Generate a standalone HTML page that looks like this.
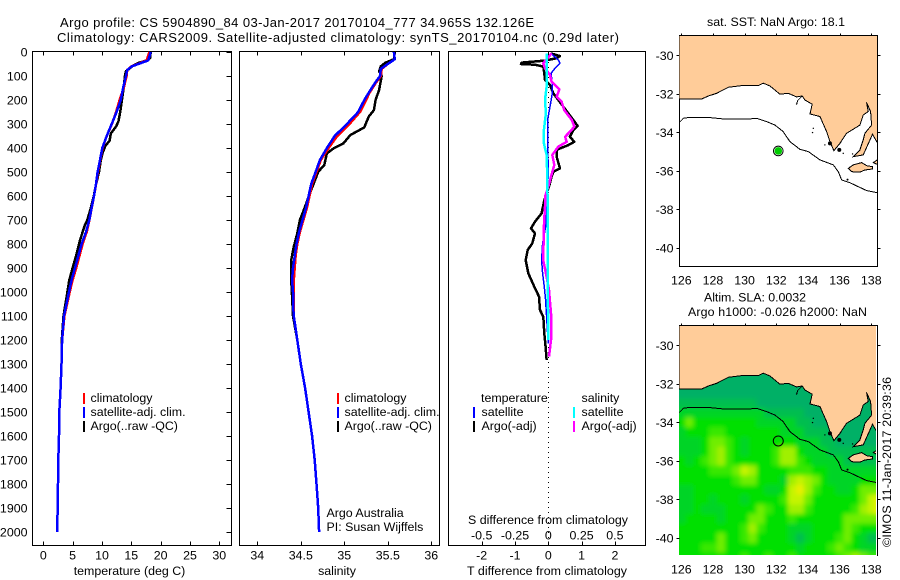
<!DOCTYPE html>
<html>
<head>
<meta charset="utf-8">
<title>Argo profile CS 5904890_84</title>
<style>
html,body{margin:0;padding:0;background:#fff;}
svg{display:block;position:absolute;left:0;top:0;}
text{font-family:"Liberation Sans",sans-serif;font-size:12.4px;fill:#000;}
</style>
</head>
<body>
<svg id="chart" width="900" height="580" viewBox="0 0 900 580" xmlns="http://www.w3.org/2000/svg">
<defs>
<clipPath id="clip-map1"><rect x="679" y="35" width="198" height="232"/></clipPath>
<clipPath id="clip-map2"><rect x="679" y="326" width="197" height="229"/></clipPath>
<filter id="heat-blur" x="-5%" y="-5%" width="110%" height="110%"><feGaussianBlur stdDeviation="2.5"/></filter>
</defs>
<rect x="0" y="0" width="900" height="580" fill="#fff"/>
<text x="60" y="27" textLength="474" style="font-size:13px">Argo profile: CS 5904890_84 03-Jan-2017 20170104_777 34.965S 132.126E</text>
<text x="57" y="42" textLength="562" style="font-size:13px">Climatology: CARS2009. Satellite-adjusted climatology: synTS_20170104.nc (0.29d later)</text>
<g id="layer"></g>
<text x="129.5" y="575" text-anchor="middle">temperature (deg C)</text>
<text x="337" y="575" text-anchor="middle">salinity</text>
<text x="467" y="575" textLength="160">T difference from climatology</text>
<text x="468" y="524" textLength="160">S difference from climatology</text>

<g>
<rect x="83" y="393" width="2" height="11" fill="#f00"/>
<rect x="83" y="407" width="2" height="11" fill="#00f"/>
<rect x="83" y="421" width="2" height="11" fill="#000"/>
<text x="90.5" y="402">climatology</text>
<text x="90.5" y="416">satellite-adj. clim.</text>
<text x="90.5" y="430">Argo(..raw -QC)</text>
</g>
<g>
<rect x="337" y="393" width="2" height="11" fill="#f00"/>
<rect x="337" y="407" width="2" height="11" fill="#00f"/>
<rect x="337" y="421" width="2" height="11" fill="#000"/>
<text x="344.5" y="402">climatology</text>
<text x="344.5" y="416">satellite-adj. clim.</text>
<text x="344.5" y="430">Argo(..raw -QC)</text>
</g>
<text x="326.5" y="517">Argo Australia</text>
<text x="326.5" y="531">PI: Susan Wijffels</text>
<g>
<text x="481" y="402">temperature</text>
<rect x="473" y="407" width="2" height="11" fill="#00f"/>
<rect x="473" y="421" width="2" height="11" fill="#000"/>
<text x="481.5" y="416">satellite</text>
<text x="481.5" y="430">Argo(-adj)</text>
<text x="581.5" y="402">salinity</text>
<rect x="573" y="407" width="2" height="11" fill="#0ff"/>
<rect x="573" y="421" width="2" height="11" fill="#f0f"/>
<text x="581.5" y="416">satellite</text>
<text x="581.5" y="430">Argo(-adj)</text>
</g>
<text x="707" y="26" textLength="138">sat. SST: NaN Argo: 18.1</text>
<text x="704" y="301.5" textLength="102">Altim. SLA: 0.0032</text>
<text x="688" y="316" textLength="179">Argo h1000: -0.026 h2000: NaN</text>
<text transform="translate(891,547) rotate(-90)" textLength="170">©IMOS 11-Jan-2017 20:39:36</text>
</svg>
<script>
/* ---------- axis tick data ---------- */
var depthTicks = [0,100,200,300,400,500,600,700,800,900,1000,1100,1200,1300,1400,1500,1600,1700,1800,1900,2000];
var tempTicks = [0,5,10,15,20,25,30];
var salTicks = [34,34.5,35,35.5,36];
var salTickLabels = ['34','34.5','35','35.5','36'];
var tDiffTicks = [-2,-1,0,1,2];
var sDiffTicks = [-0.5,-0.25,0,0.25,0.5];
var sDiffTickLabels = ['-0.5','-0.25','0','0.25','0.5'];
var lonTicks = [126,128,130,132,134,136,138];
var latTicks = [-30,-32,-34,-36,-38,-40];

/* ---------- temperature profile data ---------- */
var tempClimDepth = [0,35,50,60,75,100,150,200,250,300,350,400,450,500,550,600,650,700,750,800,850,900,950,1000,1100,1200,1300,1400,1500,1600,1700,1800,1900,2000];
var tempClimValue = [18.1,17.6,16.1,15.0,14.3,14.2,13.7,13.0,12.4,11.7,10.8,10.1,9.7,9.3,9.0,8.65,8.25,7.85,7.4,6.7,6.15,5.6,5.0,4.5,3.6,3.2,3.1,2.95,2.73,2.67,2.56,2.5,2.44,2.39];
var tempSatValue = [18.3,17.9,16.2,15.06,14.3,14.1,13.6,13.2,12.5,11.65,10.8,10.05,9.66,9.26,8.98,8.64,8.24,7.84,7.27,6.53,5.97,5.4,4.83,4.38,3.53,3.2,3.1,2.95,2.73,2.67,2.56,2.5,2.44,2.39];
var tempArgoDepth = [0,25,35,45,55,65,80,100,150,200,250,290,310,340,370,390,420,450,500,550,600,650,700,720,780,800,850,900,950,1000,1100,1200,1300];
var tempArgoValue = [18.3,18.2,17.6,16.3,15.4,14.9,14.1,13.9,13.7,13.4,13.1,12.8,12.4,11.5,11.3,10.6,10.1,9.8,9.5,9.0,8.6,8.1,7.5,7.1,6.3,6.08,5.57,5.0,4.43,4.1,3.45,3.15,3.1];

/* ---------- salinity profile data ---------- */
var salSatDepth = [0,30,50,70,100,130,170,200,250,300,350,400,450,500,550,600,650,700,750,800,850,900,950,1000,1050,1100,1200,1300,1400,1500,1600,1700,1800,1900,2000];
var salSatValue = [35.57,35.58,35.5,35.42,35.41,35.35,35.28,35.23,35.16,35.03,34.89,34.8,34.72,34.67,34.62,34.59,34.56,34.52,34.48,34.45,34.43,34.41,34.4,34.41,34.41,34.42,34.46,34.5,34.55,34.59,34.63,34.66,34.68,34.7,34.71];
var salClimValue = [35.57,35.58,35.5,35.43,35.42,35.36,35.29,35.25,35.18,35.06,34.92,34.82,34.73,34.68,34.63,34.6,34.57,34.53,34.49,34.46,34.44,34.43,34.42,34.42,34.42,34.42,34.46,34.5,34.55,34.59,34.63,34.66,34.68,34.7,34.71];
var salArgoDepth = [0,30,45,60,80,100,158,200,242,269,314,346,381,401,422,471,499,547,603,644,700,756,811,867,950,1019,1100,1200,1300];
var salArgoValue = [35.58,35.57,35.47,35.42,35.4,35.43,35.4,35.36,35.34,35.28,35.23,35.07,34.99,34.88,34.8,34.77,34.7,34.65,34.59,34.55,34.49,34.46,34.42,34.39,34.39,34.4,34.41,34.46,34.5];

/* ---------- difference panel data ---------- */
var tDiffArgoDepth = [6,17,26,36,44,50,53,61,89,117,138,172,228,283,308,325,353,374,388,408,436,485,499,519,561,617,672,707,735,756,797,825,867,922,978,1019,1075,1103,1172,1228,1283];
var tDiffArgoValue = [0.08,0.35,0.25,-0.1,-0.8,-0.82,-0.4,-0.15,-0.12,-0.1,0.05,0.15,0.45,0.75,0.88,0.75,0.65,0.78,0.6,0.25,0.25,0.35,0.15,0.1,0.02,-0.12,-0.2,-0.4,-0.52,-0.4,-0.48,-0.62,-0.68,-0.6,-0.42,-0.28,-0.25,-0.15,-0.12,-0.08,-0.05];
var tDiffSatDepth = [6,33,47,68,89,131,172,228,283,367,506,728,797,867,922,978,1033,1103,1172,1214];
var tDiffSatValue = [0.08,0.3,0.35,0.2,0.08,0.12,0.12,0.05,-0.02,-0.02,0,-0.08,-0.17,-0.2,-0.17,-0.12,-0.08,-0.05,-0.02,0];
var sDiffArgoDepth = [6,47,68,96,124,156,186,207,242,283,311,332,353,374,394,429,471,519,561,603,644,693,728,867,936,992,1089,1200,1269];
var sDiffArgoValue = [0.025,-0.038,-0.025,0.013,0.025,0.083,0.063,0.1,0.12,0.176,0.196,0.163,0.126,0.138,0.075,0.03,0.045,0.02,0,-0.025,-0.025,-0.03,-0.033,-0.038,-0.013,0.005,0.02,0.02,0.005];
var sDiffSatDepth = [6,47,89,144,200,256,325,381,429,506,617,894,1200];
var sDiffSatValue = [-0.013,-0.013,-0.013,-0.013,-0.025,-0.018,-0.033,-0.033,-0.013,-0.008,-0.005,-0.005,0];

/* ---------- map data ---------- */
var coastLon = [125.87,126.76,127.28,127.71,128.23,128.97,129.92,130.86,131.18,131.6,132.23,132.76,133.28,133.64,133.81,134.27,134.13,134.76,135.18,135.39,135.64,136.02,136.44,137.28,137.49,137.81,137.7,137.96,138.02,137.6,137.49,137.28,136.86,137.49,137.92,138.08,138.38,138.38,125.87];
var coastLat = [-32.27,-32.28,-32.27,-32.11,-31.97,-31.66,-31.56,-31.57,-31.45,-31.59,-32.02,-31.97,-32.16,-32.11,-32.32,-32.54,-33.04,-33.18,-33.96,-34.48,-34.95,-34.57,-34.05,-33.62,-33.1,-32.92,-32.44,-32.92,-33.62,-34.05,-34.39,-34.91,-35.26,-35.17,-34.39,-34.1,-34.53,-28.98,-28.98];
var kangarooLon = [136.55,136.86,137.39,137.71,138.08,138.08,137.6,137.28,136.76];
var kangarooLat = [-35.87,-35.69,-35.57,-35.73,-35.78,-35.9,-35.95,-36.06,-36.04];
var fleurieuLon = [138.13,138.38,138.38];
var fleurieuLat = [-35.57,-35.43,-35.66];
var isobathLon = [125.87,126.13,126.55,127.6,128.65,130.34,130.76,131.39,131.92,132.44,132.86,133.49,134.02,134.76,135.6,135.92,136.13,136.65,137.18,137.71,138.38];
var isobathLat = [-33.49,-33.27,-33.22,-33.22,-33.3,-33.3,-33.27,-33.44,-33.62,-33.96,-34.48,-34.88,-35,-35.43,-35.69,-36.04,-36.47,-36.61,-36.82,-37.02,-37.13];
var inletLon = [133.28,133.35,133.64];
var inletLat = [-32.56,-32.35,-32.11];
var isletLon = [135.39,135.98,134.34,134.29,133.28,135.07,136.23,136.82,136.5];
var isletLat = [-34.57,-34.91,-33.79,-34.01,-32.53,-34.65,-35.09,-35.12,-36.45];
var isletSize = [2,2,0.7,0.7,0.7,0.7,0.7,0.7,1];
var profileLon = [132.126];
var profileLat = [-34.965];

/* ---------- SLA grid: one string per latitude, one digit per longitude ---------- */
var slaLons = [126,126.5,127,127.5,128,128.5,129,129.5,130,130.5,131,131.5,132,132.5,133,133.5,134,134.5,135,135.5,136,136.5,137,137.5,138,138.5];
var slaLats = [-31.5,-32,-32.5,-33,-33.5,-34,-34.5,-35,-35.5,-36,-36.5,-37,-37.5,-38,-38.5,-39,-39.5,-40,-40.5,-41];
var slaRows = [
"11111111111111111111111111",
"11111111111111111111111111",
"11111111111111111111111111",
"22222222221111111111111111",
"33333333333222221111111111",
"46444444443333322111111111",
"34445544444443332221111111",
"33346654344444433322111111",
"33346754344457743332222222",
"43456754444457754333322222",
"44445556874444555443333333",
"44444445664443787643333444",
"33444444444334897544334666",
"33443444344445886444444689",
"33433344446544775444445789",
"34444344466444544444466666",
"44444444575444333444465444",
"44444644564444323444564322",
"44455644444444434445654333",
"44444444544544544444567655"
];

/* ---------- scales ---------- */
function yDepth(d){return 52+0.24*d;}
function xTemp(v){return 43.3+5.867*v;}
function xSal(v){return 257.3+87*(v-34);}
function xTd(v){return 548.3+33.3*v;}
function xSd(v){return 548.3+133.2*v;}
function xLon(v){return 681.3+15.83*(v-126);}
function yLat1(v){return 55.3+19.27*(-30-v);}
function yLat2(v){return 345.3+19.27*(-30-v);}

/* ---------- helpers ---------- */
var NS='http://www.w3.org/2000/svg';
var layer=document.getElementById('layer');
function make(tag,props,parent){
  var e=document.createElementNS(NS,tag);
  for(var k in props){e.setAttribute(k,props[k]);}
  (parent||layer).appendChild(e);
  return e;
}
function pathFrom(xs,ys,fx,fy,close){
  var s='';
  for(var i=0;i<xs.length;i++){s+=(i?'L':'M')+fx(xs[i]).toFixed(1)+' '+fy(ys[i]).toFixed(1);}
  return s+(close?'Z':'');
}
function drawSeries(name,depths,values,fx,color,width){
  var p=make('path',{d:pathFrom(values,depths,fx,yDepth),fill:'none',stroke:color,'stroke-width':width,'shape-rendering':'crispEdges','stroke-linejoin':'round'});
  
  
}
function drawRule(name,x1,y1,x2,y2){
  var l=make('line',{x1:x1,y1:y1,x2:x2,y2:y2,stroke:'#000','stroke-width':1,'shape-rendering':'crispEdges'});
  
  
}
function drawLabel(name,x,y,txt,anchor){
  var t=make('text',{x:x,y:y,'text-anchor':anchor});
  t.textContent=txt;
  
  
}
function drawFrame(name,l,t,r,b){
  var f=make('rect',{x:l,y:t,width:r-l,height:b-t,fill:'#fff',stroke:'#000','stroke-width':1,'shape-rendering':'crispEdges'});
  
  
}

/* ---------- profile panels ---------- */
var TOP=51.5,BOT=545.5;
drawFrame('temperature-plot-frame',32.5,TOP,231.5,BOT);
drawFrame('salinity-plot-frame',239.5,TOP,439.5,BOT);
drawFrame('difference-plot-frame',448.5,TOP,645.5,BOT);

depthTicks.forEach(function(d){
  drawRule('depth-tick',226.5,Math.round(yDepth(d))+0.5,231.5,Math.round(yDepth(d))+0.5);
  drawLabel('depth-tick-label',27.5,yDepth(d)+4.5,String(d),'end');
});
tempTicks.forEach(function(v){
  var x=Math.round(xTemp(v))+0.5;
  drawRule('temperature-top-tick',x,TOP,x,TOP+4);
  drawRule('temperature-bottom-tick',x,BOT-4,x,BOT);
  drawLabel('temperature-tick-label',xTemp(v),559.5,String(v),'middle');
});
salTicks.forEach(function(v,i){
  var x=Math.round(xSal(v))+0.5;
  drawRule('salinity-top-tick',x,TOP,x,TOP+4);
  drawRule('salinity-bottom-tick',x,BOT-4,x,BOT);
  drawLabel('salinity-tick-label',xSal(v),559.5,salTickLabels[i],'middle');
});
tDiffTicks.forEach(function(v){
  var x=Math.round(xTd(v))+0.5;
  drawRule('t-difference-top-tick',x,TOP,x,TOP+4);
  drawRule('t-difference-bottom-tick',x,BOT-4,x,BOT);
  drawLabel('t-difference-tick-label',xTd(v),559.5,String(v),'middle');
});
sDiffTicks.forEach(function(v,i){
  drawLabel('s-difference-tick-label',xSd(v),539.5,sDiffTickLabels[i],'middle');
});

var zeroLine=make('line',{x1:548.5,y1:52,x2:548.5,y2:545,stroke:'#000','stroke-width':1,'stroke-dasharray':'1 4','shape-rendering':'crispEdges'});



drawSeries('temperature-argo-line',tempArgoDepth,tempArgoValue,xTemp,'#000',2.5);
drawSeries('temperature-climatology-line',tempClimDepth,tempClimValue,xTemp,'#f00',2.5);
drawSeries('temperature-satellite-line',tempClimDepth,tempSatValue,xTemp,'#00f',2.5);
drawSeries('salinity-argo-line',salArgoDepth,salArgoValue,xSal,'#000',2.5);
drawSeries('salinity-climatology-line',salSatDepth,salClimValue,xSal,'#f00',2.5);
drawSeries('salinity-satellite-line',salSatDepth,salSatValue,xSal,'#00f',2.5);
drawSeries('t-difference-argo-line',tDiffArgoDepth,tDiffArgoValue,xTd,'#000',2.5);
drawSeries('t-difference-satellite-line',tDiffSatDepth,tDiffSatValue,xTd,'#00f',1.5);
drawSeries('s-difference-argo-line',sDiffArgoDepth,sDiffArgoValue,xSd,'#f0f',2.5);
drawSeries('s-difference-satellite-line',sDiffSatDepth,sDiffSatValue,xSd,'#0ff',2.5);

/* ---------- maps ---------- */
var slaPalette=['#00a878','#00b066','#00be50','#00d428','#00e000','#38e800','#70ee00','#a0f000','#c4f400','#e8f000'];

function drawMap(prefix,fy,clipId,top,bottom,withHeat){
  drawFrame(prefix+'-frame',679.5,top,877.5,bottom);
  var g=make('g',{'clip-path':'url(#'+clipId+')'});
  
  
  if(withHeat){
    var heat=make('g',{filter:'url(#heat-blur)'},g);
    
    
    slaRows.forEach(function(row,r){
      slaLons.forEach(function(lon,c){
        var v=+row.charAt(c);
        var x0=xLon(lon-0.25),y0=fy(slaLats[r]+0.25);
        var x1=xLon(lon+0.25);
        if(c===0){x0-=12;}
        var cell=make('rect',{x:x0,y:y0,width:x1-x0,height:fy(slaLats[r]-0.25)-y0,fill:slaPalette[v],'shape-rendering':'crispEdges'},heat);
        
        
      });
    });
  }
  var land=make('path',{d:pathFrom(coastLon,coastLat,xLon,fy,true),fill:'#ffcc99',stroke:'#000','stroke-width':1,'shape-rendering':'crispEdges'},g);
  
  
  var island=make('path',{d:pathFrom(kangarooLon,kangarooLat,xLon,fy,true),fill:'#ffcc99',stroke:'#000','stroke-width':1,'shape-rendering':'crispEdges'},g);
  
  
  var cape=make('path',{d:pathFrom(fleurieuLon,fleurieuLat,xLon,fy,true),fill:'#ffcc99',stroke:'#000','stroke-width':1,'shape-rendering':'crispEdges'},g);
  
  
  var inlet=make('path',{d:pathFrom(inletLon,inletLat,xLon,fy),fill:'none',stroke:'#000','stroke-width':1,'shape-rendering':'crispEdges'},g);
  
  
  isletLon.forEach(function(lon,i){
    var s=make('circle',{cx:xLon(lon),cy:fy(isletLat[i]),r:isletSize[i],fill:'#000'},g);
    
    
  });
  var iso=make('path',{d:pathFrom(isobathLon,isobathLat,xLon,fy),fill:'none',stroke:'#000','stroke-width':1,'shape-rendering':'crispEdges'},g);
  
  
  lonTicks.forEach(function(v){
    var x=Math.round(xLon(v))+0.5;
    drawRule(prefix+'-top-tick',x,top-2,x,top);
  });
  latTicks.forEach(function(v){
    var y=Math.round(fy(v))+0.5;
    drawRule(prefix+'-left-tick',676.5,y,679.5,y);
    drawRule(prefix+'-right-tick',877.5,y,880.5,y);
    drawLabel(prefix+'-lat-label',673.5,fy(v)+4.5,String(v),'end');
  });
  lonTicks.forEach(function(v){
    drawLabel(prefix+'-lon-label',xLon(v),bottom+18,String(v),'middle');
  });
}
drawMap('sst-map',yLat1,'clip-map1',35.5,266.5,false);
drawMap('sla-map',yLat2,'clip-map2',325.5,555.5,true);

var frameGap=make('rect',{x:679,y:555,width:198,height:1,fill:'#fff','shape-rendering':'crispEdges'});



var ring1=make('circle',{cx:xLon(profileLon[0]),cy:yLat1(profileLat[0]),r:4.8,fill:'#fff',stroke:'#000','stroke-width':1});


var dot1=make('circle',{cx:xLon(profileLon[0]),cy:yLat1(profileLat[0]),r:3.8,fill:'#00cc00'});


var ring2=make('circle',{cx:xLon(profileLon[0]),cy:yLat2(profileLat[0]),r:5,fill:'none',stroke:'#000','stroke-width':1});


</script>
</body>
</html>
